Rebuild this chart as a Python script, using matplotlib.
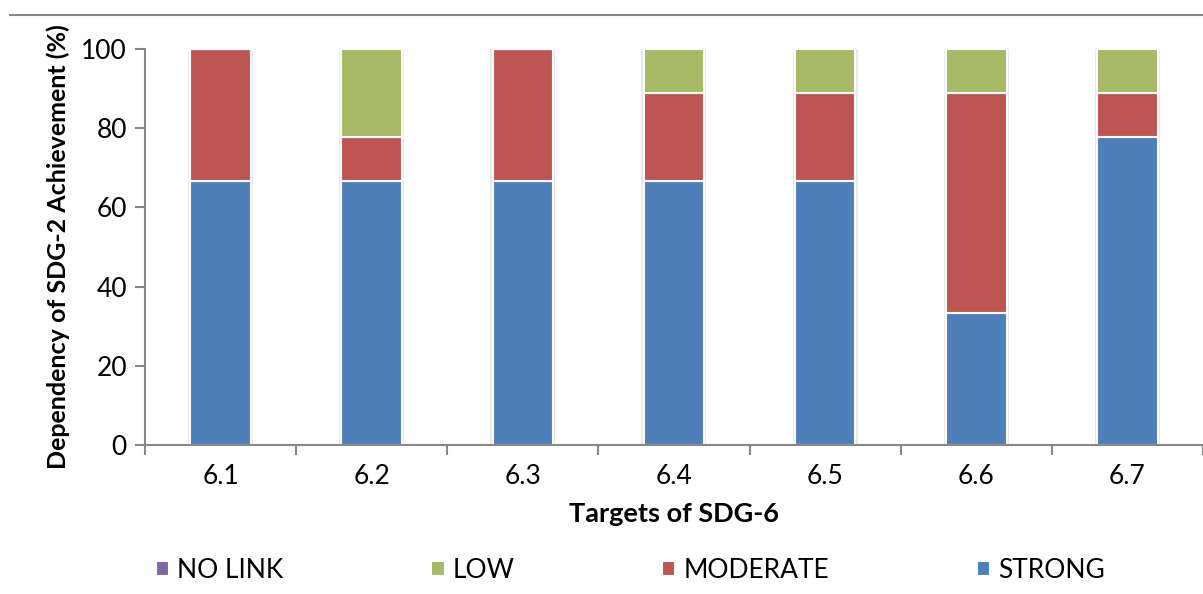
import matplotlib.pyplot as plt
import numpy as np

targets = ["6.1", "6.2", "6.3", "6.4", "6.5", "6.6", "6.7"]
strong = [66.7, 66.7, 66.7, 66.7, 66.7, 33.3, 77.8]
moderate = [33.3, 11.1, 33.3, 22.2, 22.2, 55.6, 11.1]
low = [0, 22.2, 0, 11.1, 11.1, 11.1, 11.1]
no_link = [0, 0, 0, 0, 0, 0, 0]

plt.rcParams['font.family'] = ['Lato', 'DejaVu Sans']

figure = plt.figure(figsize=(12.03, 5.94), dpi=100)
axes = figure.add_axes([0.1205, 0.2508, 0.8795, 0.6667])

x = np.arange(len(targets))
width = 0.4

# soft shadow behind bars
totals = np.array(strong) + np.array(moderate) + np.array(low) + np.array(no_link)
axes.bar(x, totals, width=width + 0.03, color="#e8e8e8", zorder=1)

bottom = np.zeros(len(targets))
series = [
    (strong, "#4f7fb8", "STRONG"),
    (moderate, "#bd5653", "MODERATE"),
    (low, "#a7b964", "LOW"),
    (no_link, "#8066a3", "NO LINK"),
]
handles = {}
for values, color, name in series:
    bars = axes.bar(x, values, width=width, bottom=bottom, color=color,
                    edgecolor="white", linewidth=1.5, zorder=2)
    handles[name] = bars
    bottom += np.array(values)

axes.set_xlim(-0.5, len(targets) - 0.5)
axes.set_ylim(0, 100)
axes.set_yticks([0, 20, 40, 60, 80, 100])
axes.set_xticks(x)
axes.set_xticklabels(targets)
axes.set_xticks(np.arange(len(targets) + 1) - 0.5, minor=True)
axes.tick_params(axis="x", which="major", length=0, pad=14, labelsize=19)
axes.tick_params(axis="x", which="minor", length=7, color="#888888", width=1.5)
axes.tick_params(axis="y", length=7, color="#888888", width=1.5, labelsize=19, pad=6)

for side in ["top", "right"]:
    axes.spines[side].set_visible(False)
for side in ["left", "bottom"]:
    axes.spines[side].set_color("#888888")
    axes.spines[side].set_linewidth(1.5)

axes.set_xlabel("Targets of SDG-6", fontsize=19.5, fontweight="bold", labelpad=9)
axes.set_ylabel("Dependency of SDG-2 Achievement (%)", fontsize=18, fontweight="bold", labelpad=8)

figure.add_artist(plt.Line2D([10 / 1203, 1], [1 - 15 / 594] * 2, color="#888888", linewidth=1.5))

order = ["NO LINK", "LOW", "MODERATE", "STRONG"]
figure.legend([handles[n] for n in order], order, loc="center", ncol=4,
              bbox_to_anchor=(0.524, 0.04), frameon=False, fontsize=19,
              handlelength=0.5, handleheight=0.5, handletextpad=0.3,
              columnspacing=5.6)

figure.savefig("out.png", dpi=100)
